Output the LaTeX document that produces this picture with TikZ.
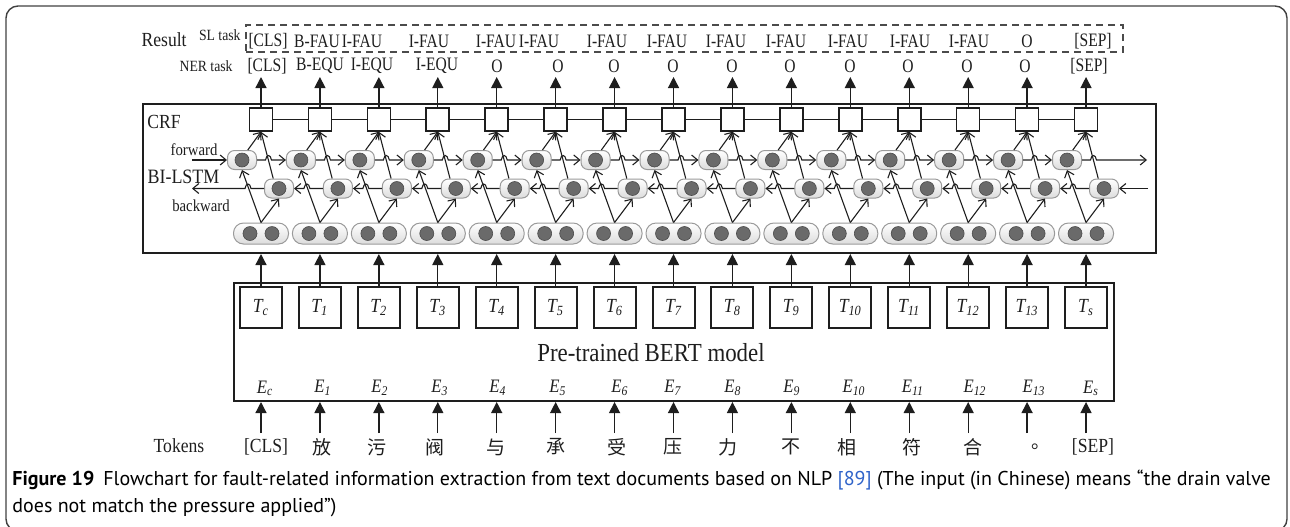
\documentclass[tikz,border=0pt]{standalone}
\usepackage{fontspec}
\setmainfont{Liberation Serif}
\newfontfamily\lab[FakeStretch=0.88]{Liberation Serif}
\newfontfamily\labn[FakeStretch=0.82]{Liberation Serif}
\newfontfamily\cjk{Noto Sans CJK SC}
\newfontfamily\capfont{PT Sans}
\usetikzlibrary{arrows.meta,calc}
\definecolor{ink}{HTML}{1E1E1E}
\definecolor{cellfill}{HTML}{DCDCDC}
\definecolor{celldraw}{HTML}{9A9A9A}
\definecolor{dot}{HTML}{6A6A6A}
\definecolor{dotdraw}{HTML}{4A4A4A}
\definecolor{linkblue}{HTML}{2F63C9}
\newcommand\zh[1]{{\cjk\fontsize{9.5}{11}\selectfont #1}}
\tikzset{
  tri/.style={-{Triangle[length=5.5pt,width=5.5pt]}, line width=0.65pt, draw=ink},
  barb/.style={-{Straight Barb[length=3pt,width=5pt]}, line width=0.55pt, draw=ink},
  plain/.style={line width=0.65pt, draw=ink},
  bigbox/.style={draw=ink, line width=1pt, inner sep=0pt},
  tbox/.style={draw=ink, line width=1pt, minimum width=21pt, minimum height=20.5pt, inner sep=0pt, font=\lab\itshape\fontsize{10}{11}\selectfont, text=ink},
  crfsq/.style={draw=ink, line width=0.8pt, fill=white, minimum size=11.5pt, inner sep=0pt},
  cell/.style={draw=celldraw, line width=0.5pt, top color=white, bottom color=cellfill, rounded corners=3.5pt, minimum width=14.5pt, minimum height=9.5pt, inner sep=0pt},
  pair/.style={cell, minimum width=27.5pt, minimum height=10.5pt, rounded corners=5pt},
  dotc/.style={circle, fill=dot, draw=dotdraw, line width=0.3pt, minimum size=7pt, inner sep=0pt},
  sltxt/.style={font=\labn\fontsize{9.5}{11}\selectfont, text=ink, inner sep=0pt},
  tagtxt/.style={font=\lab\fontsize{7.8}{9}\selectfont, text=ink, inner sep=0pt},
  bigtxt/.style={font=\lab\fontsize{10}{12}\selectfont, text=ink, inner sep=0pt},
  etxt/.style={font=\lab\itshape\fontsize{9.5}{11}\selectfont, text=ink, inner sep=0pt},
  captxt/.style={font=\capfont\fontsize{10}{12}\selectfont, text=black, inner sep=0pt, anchor=base west}
}
\begin{document}
\begin{tikzpicture}[x=0.5pt,y=-0.5pt]
\useasboundingbox (0,0) rectangle (1290,526);
% outer frame
\draw[line width=0.7pt, draw=ink!85, rounded corners=6pt] (6,531) rectangle (1287,6);

% big boxes
\node[bigbox, minimum width=506.5pt, minimum height=74.5pt] (lstm) at (649.5,178.5) {};
\node[bigbox, minimum width=440pt, minimum height=59pt] (bert) at (674,342) {};
\node[draw=ink!80, line width=0.7pt, dash pattern=on 3.5pt off 2.5pt, minimum width=438.5pt, minimum height=13.5pt, inner sep=0pt] (slbox) at (684.5,38.5) {};

\coordinate (nertip) at (0,77);
\coordinate (fwin) at (192,160);
\coordinate (fwout) at (1147,160);
\coordinate (bwin) at (1148,188.5);
\coordinate (bwout) at (192,188.5);

% cells per column
\foreach \i in {0,...,14}{
  \pgfmathsetmacro\X{261+58.93*\i}
  \node[crfsq] (sq\i) at (\X,119.5) {};
  \node[cell] (fw\i) at (\X-19,160) {};
  \node[dotc] (fwd\i) at (fw\i) {};
  \node[cell] (bw\i) at (\X+18,188.5) {};
  \node[dotc] (bwd\i) at (bw\i) {};
  \node[pair] (pr\i) at (\X,233.5) {};
  \node[dotc] (pra\i) at (\X-11,233.5) {};
  \node[dotc] (prb\i) at (\X+11,233.5) {};
  \coordinate (ta\i) at (\X,433);
}

% T boxes and E labels
\foreach \i/\tsub/\ecx in {0/c/265,1/1/323,2/2/380,3/3/440,4/4/498,5/5/558,6/6/620,7/7/673,8/8/733,9/9/792,10/10/854,11/11/913,12/12/975,13/13/1034,14/s/1091}{
  \node[tbox] (T\i) at ({261+58.93*\i},307.5) {T\textsubscript{\tsub}};
  \node[etxt] (E\i) at (\ecx,388) {E\textsubscript{\tsub}};
}

% vertical connectors and LSTM internals
\foreach \i in {0,...,14}{
  \draw[barb] (pr\i.north) -- (fw\i.south);
  \draw[barb] (pr\i.north) -- (bw\i.south);
  \draw[barb] (fw\i.60) -- (sq\i.south);
  \draw[barb] (bw\i.120) -- (sq\i.south);
  \draw[tri] (T\i.north) -- (T\i.north |- lstm.south);
  \draw[tri] (sq\i.north) -- (sq\i.north |- nertip);
  \draw[tri] (ta\i) -- (ta\i |- bert.south);
}

% forward row and CRF chain
\foreach \i in {0,...,13}{
  \pgfmathtruncatemacro\j{\i+1}
  \pgfmathsetmacro\H{261+58.93*\i+7.5}
  \draw[barb] (fw\i.east) -- (\H-3,160) .. controls (\H-2,154) and (\H+2,154) .. (\H+3,160) -- (fw\j.west);
  \draw[plain] (sq\i.east) -- (sq\j.west);
}
% backward row
\foreach \i in {1,...,14}{
  \pgfmathtruncatemacro\k{\i-1}
  \pgfmathsetmacro\H{261+58.93*\i-13}
  \draw[barb] (bw\i.west) -- (\H+3,188.5) .. controls (\H+2,182.5) and (\H-2,182.5) .. (\H-3,188.5) -- (bw\k.east);
}
% ends
\draw[barb] (fwin) -- (fw0.west);
\draw[barb] (fw14.east) -- (1090.5,160) .. controls (1091.5,154) and (1095.5,154) .. (1096.5,160) -- (fwout);
\draw[barb] (bwin) -- (bw14.east);
\draw[barb] (bw0.west) -- (251,188.5) .. controls (250,182.5) and (246,182.5) .. (245,188.5) -- (bwout);

% labels on left
\node[bigtxt, anchor=east] (result) at (187,40) {Result};
\node[tagtxt, anchor=east] (sltask) at (241,35) {SL task};
\node[tagtxt, anchor=east] (nertask) at (233,66) {NER task};
\node[bigtxt, anchor=west] (crf) at (147,122) {CRF};
\node[font=\lab\fontsize{8.4}{10}\selectfont, text=ink, inner sep=0pt] (fwlab) at (194,150) {forward};
\node[font=\lab\fontsize{10.2}{12}\selectfont, text=ink, inner sep=0pt] (bilstm) at (183.5,177) {BI-LSTM};
\node[font=\lab\fontsize{8.4}{10}\selectfont, text=ink, inner sep=0pt] (bwlab) at (201,206) {backward};
\node[font=\lab\fontsize{13}{15}\selectfont, text=ink, inner sep=0pt] (bertlab) at (651,353) {Pre-trained BERT model};
\node[bigtxt] (tokens) at (179,446) {Tokens};

% SL task labels
\foreach \t/\x [count=\n from 0] in {{[CLS]}/268,B-FAU/317,I-FAU/362,I-FAU/429,I-FAU/496,I-FAU/539,I-FAU/607,I-FAU/667,I-FAU/726,I-FAU/786,I-FAU/848,I-FAU/910,I-FAU/969,O/1027,{[SEP]}/1093}{
  \node[sltxt] (sl\n) at (\x,41) {\t};
}
% NER task labels
\foreach \t/\x [count=\n from 0] in {{[CLS]}/267,B-EQU/320,I-EQU/372,I-EQU/437,O/497,O/558,O/614,O/673,O/732,O/790,O/850,O/908,O/967,O/1025,{[SEP]}/1089}{
  \node[sltxt] (ner\n) at (\x,66) {\t};
}
% tokens
\foreach \t/\x [count=\n from 0] in {{[CLS]}/266,{\zh{放}}/322,{\zh{污}}/377,{\zh{阀}}/435,{\zh{与}}/496,{\zh{承}}/556,{\zh{受}}/617,{\zh{压}}/673,{\zh{力}}/728,{\zh{不}}/791,{\zh{相}}/847,{\zh{符}}/912,{\zh{合}}/973,{\zh{。}}/1041,{[SEP]}/1093}{
  \node[bigtxt] (tok\n) at (\x,447) {\t};
}

% caption
\node[captxt] (cap1) at (12,485) {\textbf{Figure 19}\hspace{0.45em}Flowchart for fault-related information extraction from text documents based on NLP {\color{linkblue}[89]} (The input (in Chinese) means “the drain valve};
\node[captxt] (cap2) at (12,512) {does not match the pressure applied”)};
\end{tikzpicture}
\end{document}
